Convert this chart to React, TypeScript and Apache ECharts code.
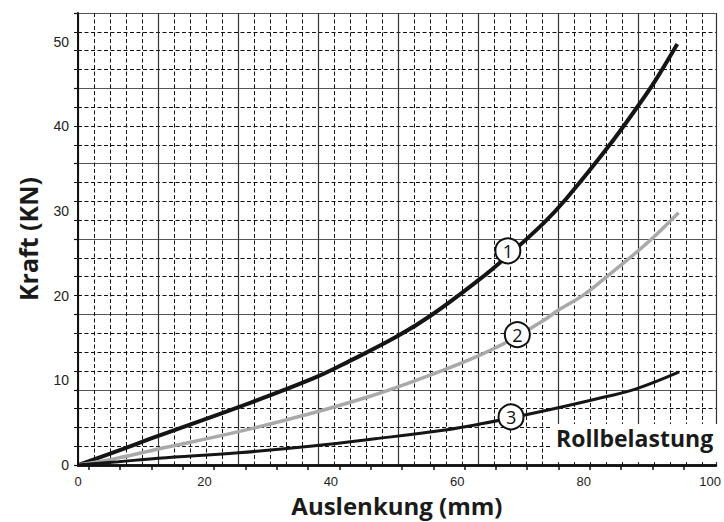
import React, { useEffect, useRef } from "react";
import * as echarts from "echarts";

// ---- data (x: Auslenkung mm, y: Kraft kN) ----
const curve1: [number, number][] = [
  [0, 0], [6.4, 1.7], [12.7, 3.45], [25.4, 6.85], [37.1, 10.2], [43, 12.3],
  [50.5, 15.2], [55.7, 17.6], [63.3, 21.8], [67.5, 24.4], [73.7, 28.6],
  [77.3, 31.5], [83.9, 37.6], [88.5, 42.3], [91.5, 45.6], [94.8, 49.7],
];
const curve2: [number, number][] = [
  [0, 0], [6.4, 0.85], [12.7, 1.9], [25.4, 3.95], [37.1, 6.15], [46.1, 8.1],
  [50.5, 9.2], [58.1, 11.3], [63.3, 12.9], [68, 14.6], [73.7, 17.1],
  [76, 18.3], [80, 20.1], [83.9, 22.4], [88.3, 25.1], [90.9, 26.8], [95, 29.8],
];
const curve3: [number, number][] = [
  [0, 0], [6.4, 0.4], [12.7, 0.8], [25.4, 1.45], [37.1, 2.25], [47, 3.1],
  [58.1, 4.15], [64, 4.9], [70.3, 5.85], [76.5, 6.85], [83.1, 8.0],
  [88.3, 9.0], [95.1, 11.0],
];
const curveMarkers: { name: string; coord: [number, number] }[] = [
  { name: "1", coord: [68.0, 25.3] },
  { name: "2", coord: [69.5, 15.4] },
  { name: "3", coord: [68.5, 5.69] },
];
const X_LABELS = [0, 20, 40, 60, 80, 100];
const Y_LABELS = [0, 10, 20, 30, 40, 50];
const X_TICK_MARKS = [
  1.72, 6.67, 11.63, 16.58, 21.53, 26.49, 31.44, 36.39, 41.34, 46.3,
  51.25, 56.2, 61.16, 66.11, 71.06, 76.02, 80.97, 85.92, 90.87, 95.83,
];
const X_MAX = 100.9;
const Y_MAX = 53.37;
const GRID_COLS = 7.975; // major grid columns across plot
const GRID_ROWS = 6; // major grid rows

const TITLE_FONT = "'Open Sans', 'DejaVu Sans', sans-serif";
const LABEL_FONT = "'Liberation Sans', Arial, sans-serif";

export default function App() {
  const ref = useRef<HTMLDivElement>(null);
  useEffect(() => {
    if (!ref.current) return;
    const chart = echarts.init(ref.current, null, { renderer: "svg" });
    const dashed = { color: "#111", width: 1, type: [4, 2.5] as any };
    const markerStyle = {
      symbol: "circle",
      symbolSize: 25,
      itemStyle: { color: "#fff", borderColor: "#111", borderWidth: 2 },
      label: {
        show: true,
        formatter: "{b}",
        color: "#111",
        fontSize: 18,
        fontFamily: TITLE_FONT,
      },
    };
    chart.setOption({
      animation: false,
      backgroundColor: "#fff",
      grid: { left: 78, right: 0, top: 13, bottom: 51, containLabel: false },
      xAxis: [
        {
          type: "value",
          min: 0,
          max: X_MAX,
          position: "bottom",
          name: "Auslenkung (mm)",
          nameLocation: "middle",
          nameGap: 26,
          nameTextStyle: {
            fontFamily: TITLE_FONT,
            fontWeight: "bold",
            fontSize: 24,
            color: "#1a1a1a",
          },
          axisLine: { show: true, lineStyle: { color: "#111", width: 2.5 } },
          axisTick: {
            show: true,
            inside: false,
            length: 5,
            customValues: X_TICK_MARKS,
            lineStyle: { color: "#111", width: 1.5 },
          },
          axisLabel: {
            customValues: X_LABELS,
            margin: 10,
            fontSize: 13,
            fontFamily: LABEL_FONT,
            color: "#222",
          },
          splitLine: { show: false },
          z: 5,
        },
        {
          type: "value",
          min: 0,
          max: GRID_COLS,
          interval: 1,
          position: "top",
          axisLine: { show: true, lineStyle: { color: "#111", width: 2.5 } },
          axisTick: { show: false },
          axisLabel: { show: false },
          splitLine: { show: true, lineStyle: { color: "#333", width: 1.2 } },
          minorTick: { show: false, splitNumber: 5 },
          minorSplitLine: { show: true, lineStyle: dashed },
        },
      ],
      yAxis: [
        {
          type: "value",
          min: 0,
          max: Y_MAX,
          position: "left",
          name: "Kraft (KN)",
          nameLocation: "middle",
          nameGap: 38,
          nameTextStyle: {
            fontFamily: TITLE_FONT,
            fontWeight: "bold",
            fontSize: 25,
            color: "#1a1a1a",
          },
          axisLine: { show: true, lineStyle: { color: "#111", width: 2 } },
          axisTick: { show: false },
          axisLabel: {
            customValues: Y_LABELS,
            margin: 9,
            fontSize: 14,
            fontFamily: LABEL_FONT,
            color: "#222",
          },
          splitLine: { show: false },
          z: 5,
        },
        {
          type: "value",
          min: 0,
          max: GRID_ROWS,
          interval: 1,
          position: "left",
          axisLine: { show: false },
          axisLabel: { show: false },
          axisTick: {
            show: true,
            inside: false,
            length: 4,
            lineStyle: { color: "#111", width: 1.2 },
          },
          minorTick: {
            show: true,
            splitNumber: 4,
            length: 4,
            lineStyle: { color: "#111", width: 1 },
          },
          splitLine: { show: true, lineStyle: { color: "#555", width: 1.2 } },
          minorSplitLine: { show: true, lineStyle: dashed },
        },
      ],
      series: [
        {
          type: "line",
          data: curve1,
          xAxisIndex: 0,
          yAxisIndex: 0,
          showSymbol: false,
          smooth: 0.4,
          lineStyle: { color: "#151515", width: 4 },
          z: 3,
          markPoint: { ...markerStyle, data: [curveMarkers[0]] },
        },
        {
          type: "line",
          data: curve2,
          xAxisIndex: 0,
          yAxisIndex: 0,
          showSymbol: false,
          smooth: 0.4,
          lineStyle: { color: "#a9a9a9", width: 3.5 },
          z: 3,
          markPoint: { ...markerStyle, data: [curveMarkers[1]] },
        },
        {
          type: "line",
          data: curve3,
          xAxisIndex: 0,
          yAxisIndex: 0,
          showSymbol: false,
          smooth: 0.4,
          lineStyle: { color: "#151515", width: 3 },
          z: 3,
          markPoint: { ...markerStyle, data: [curveMarkers[2]] },
        },
      ],
      graphic: [
        {
          type: "rect",
          left: 552,
          top: 424,
          shape: { width: 169, height: 38 },
          style: { fill: "#fff" },
          z: 10,
        },
        {
          type: "text",
          left: 556,
          top: 426,
          style: {
            text: "Rollbelastung",
            fill: "#1a1a1a",
            font: `bold 23px ${TITLE_FONT}`,
          },
          z: 11,
        },
      ],
    });
    return () => chart.dispose();
  }, []);
  return (
    <div
      ref={ref}
      style={{ position: "fixed", left: 0, top: 0, width: 724, height: 522, background: "#fff" }}
    />
  );
}
